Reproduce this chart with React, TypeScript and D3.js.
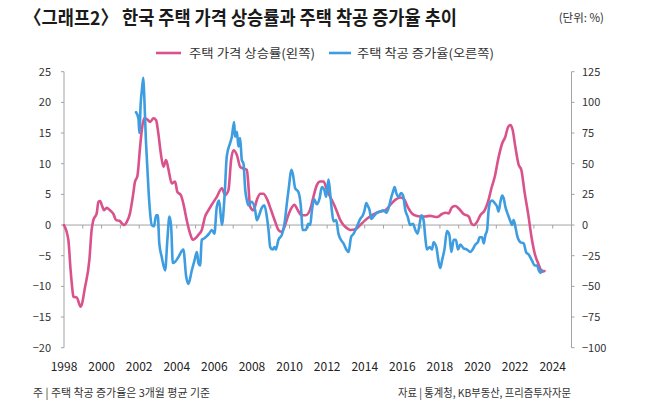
import React from "react";
import * as d3 from "d3";

// 주택 가격 상승률 (왼쪽 축, %)
const priceYears = [
  1998.0, 1998.23, 1998.35, 1998.45, 1998.5, 1998.67, 1998.89, 1999.12, 1999.35, 1999.47,
  1999.56, 1999.74, 1999.83, 1999.92, 2000.04, 2000.13, 2000.27, 2000.45, 2000.63, 2000.77,
  2000.95, 2001.07, 2001.2, 2001.34, 2001.51, 2001.66, 2001.78, 2001.9, 2002.05, 2002.14,
  2002.26, 2002.44, 2002.58, 2002.76, 2002.9, 2003.02, 2003.15, 2003.29, 2003.43, 2003.55,
  2003.73, 2003.91, 2004.03, 2004.21, 2004.35, 2004.53, 2004.71, 2004.85, 2004.98, 2005.15,
  2005.33, 2005.51, 2005.68, 2005.86, 2006.13, 2006.4, 2006.57, 2006.75, 2006.89, 2007.02,
  2007.2, 2007.37, 2007.55, 2007.73, 2007.81, 2007.9, 2008.08, 2008.26, 2008.44, 2008.61,
  2008.79, 2009.02, 2009.24, 2009.41, 2009.56, 2009.73, 2009.91, 2010.09, 2010.26, 2010.44,
  2010.65, 2010.86, 2011.1, 2011.27, 2011.45, 2011.63, 2011.81, 2011.99, 2012.16, 2012.34,
  2012.52, 2012.7, 2012.87, 2013.05, 2013.23, 2013.5, 2013.76, 2014.03, 2014.29, 2014.56,
  2014.83, 2015.09, 2015.36, 2015.62, 2015.89, 2016.07, 2016.28, 2016.51, 2016.74, 2016.96,
  2017.22, 2017.49, 2017.66, 2017.84, 2018.11, 2018.29, 2018.46, 2018.64, 2018.82, 2019.0,
  2019.26, 2019.53, 2019.67, 2019.8, 2019.97, 2020.15, 2020.38, 2020.56, 2020.74, 2020.92,
  2021.09, 2021.31, 2021.48, 2021.63, 2021.75, 2021.87, 2022.01, 2022.19, 2022.33, 2022.51,
  2022.69, 2022.87, 2023.04, 2023.26, 2023.44, 2023.56,
];
const priceRates = [
  0, -2.4, -7.3, -10.6, -11.7, -11.8, -13.3, -10.1, -5.7, -0.8,
  0.8, 1.9, 3.8, 3.9, 3.0, 2.4, 2.8, 2.4, 1.8, 0.8,
  0.7, 0.3, 0, 0.5, 1.9, 4.6, 7.1, 7.9, 12.8, 15.5,
  17.4, 17.2, 16.8, 17.4, 17.1, 14.9, 11.7, 9.5, 10.6, 9.2,
  6.8, 7.1, 5.4, 4.9, 3.5, 0.8, -1.4, -2.4, -2.2, -1.6,
  -0.8, 1.4, 2.4, 3.3, 4.6, 6.0, 4.9, 5.7, 10.6, 12.2,
  11.4, 9.5, 9.2, 9.0, 6.5, 3.0, 2.4, 4.1, 5.1, 5.1,
  4.3, 2.4, 0.5, -0.8, -1.1, -0.3, 1.4, 2.7, 3.3, 2.4,
  1.6, 1.6, 2.6, 4.6, 6.5, 7.1, 7.1, 5.7, 4.6, 3.5,
  2.2, 0.8, 0, -0.5, -0.8, -0.7, 0, 0.8, 1.4, 1.9,
  2.2, 2.4, 3.3, 4.1, 4.5, 4.3, 3.0, 1.9, 1.5, 1.4,
  1.4, 1.5, 1.4, 1.3, 1.8, 2.0, 1.9, 2.9, 3.1, 2.7,
  1.8, 1.4, 0.3, 0, 0.5, 1.6, 2.4, 3.8, 6.0, 7.9,
  10.6, 13.3, 14.4, 16.0, 16.3, 15.5, 12.8, 9.8, 9.0, 5.2,
  1.9, -1.9, -4.6, -6.5, -7.6, -7.5,
];

// 주택 착공 증가율 (오른쪽 축, %, 3개월 평균)
const startYears = [
  2001.83, 2001.96, 2002.01, 2002.08, 2002.15, 2002.22, 2002.27, 2002.35, 2002.44, 2002.54,
  2002.67, 2002.79, 2002.9, 2002.99, 2003.07, 2003.2, 2003.38, 2003.5, 2003.61, 2003.7,
  2003.79, 2003.91, 2004.09, 2004.35, 2004.5, 2004.62, 2004.8, 2004.94, 2005.07, 2005.15,
  2005.24, 2005.33, 2005.45, 2005.6, 2005.72, 2005.86, 2006.0, 2006.13, 2006.25, 2006.4,
  2006.54, 2006.66, 2006.84, 2006.93, 2007.05, 2007.1, 2007.2, 2007.28, 2007.37, 2007.46,
  2007.55, 2007.64, 2007.73, 2007.81, 2007.99, 2008.17, 2008.26, 2008.38, 2008.52, 2008.66,
  2008.79, 2008.88, 2008.97, 2009.09, 2009.2, 2009.27, 2009.41, 2009.59, 2009.73, 2009.86,
  2009.98, 2010.09, 2010.17, 2010.3, 2010.47, 2010.62, 2010.69, 2010.86, 2011.0, 2011.1,
  2011.19, 2011.31, 2011.45, 2011.6, 2011.72, 2011.84, 2011.95, 2012.07, 2012.16, 2012.25,
  2012.34, 2012.48, 2012.6, 2012.73, 2012.87, 2013.02, 2013.14, 2013.27, 2013.41, 2013.59,
  2013.76, 2013.9, 2013.99, 2014.08, 2014.15, 2014.26, 2014.35, 2014.47, 2014.65, 2014.83,
  2015.0, 2015.15, 2015.27, 2015.4, 2015.5, 2015.59, 2015.68, 2015.8, 2015.93, 2016.04,
  2016.16, 2016.28, 2016.42, 2016.57, 2016.69, 2016.81, 2016.92, 2017.01, 2017.13, 2017.22,
  2017.31, 2017.45, 2017.58, 2017.66, 2017.81, 2017.93, 2018.02, 2018.11, 2018.25, 2018.37,
  2018.5, 2018.61, 2018.73, 2018.85, 2018.96, 2019.09, 2019.26, 2019.44, 2019.62, 2019.74,
  2019.88, 2020.02, 2020.11, 2020.24, 2020.33, 2020.42, 2020.51, 2020.59, 2020.68, 2020.77,
  2020.91, 2021.04, 2021.12, 2021.22, 2021.31, 2021.39, 2021.48, 2021.63, 2021.75, 2021.84,
  2021.92, 2022.01, 2022.1, 2022.28, 2022.46, 2022.58, 2022.72, 2022.9, 2023.04, 2023.17,
  2023.26, 2023.35, 2023.44,
];
const startRates = [
  92, 87, 75, 99, 111, 120, 105, 72, 45, 18,
  0, -1, 8, 8, -15, -26, -37, -12, 7, -1,
  -31, -30, -26, -20, -42, -48, -37, -29, -22, -31,
  -33, -12, -11, -9, -7, -4, -7, 15, 20, 0,
  23, 56, 67, 72, 84, 72, 76, 64, 71, 53,
  50, 29, 20, 16, 19, 12, 4, 8, 14, 16,
  7, -4, -18, -20, -18, -20, -12, -8, 1, 18,
  33, 45, 42, 30, 27, 12, -4, -4, 1, 0,
  12, 21, 17, 22, 31, 29, 23, 37, 26, 12,
  3, 4, -7, -12, -15, -20, -22, -10, -7, -1,
  5, 8, 12, 18, 16, 12, 5, 7, 10, 11,
  12, 10, 14, 22, 27, 31, 26, 23, 26, 24,
  12, 7, 0, 1, -4, -7, 1, 8, 4, -10,
  -20, -18, -20, -14, -18, -30, -35, -29, -19, -5,
  -8, -22, -12, -12, -20, -16, -19, -20, -22, -20,
  -16, -14, -10, -10, -15, -8, -4, 12, 19, 20,
  18, 15, 11, 19, 24, 22, 15, 8, 3, 0,
  4, -1, -8, -14, -15, -22, -24, -29, -33, -33,
  -37, -39, -37,
];

const leftTicks = [25, 20, 15, 10, 5, 0, -5, -10, -15, -20];
const rightTicks = [125, 100, 75, 50, 25, 0, -25, -50, -75, -100];
const yearLabels = [1998, 2000, 2002, 2004, 2006, 2008, 2010, 2012, 2014, 2016, 2018, 2020, 2022, 2024];
const yearTicks = d3.range(1999, 2026);

const PINK = "#d9528b";
const BLUE = "#3d9de0";
const AXIS = "#a3a3a3";
const FONT = "'Noto Sans CJK KR', 'Noto Sans', sans-serif";

const fmt = (v: number) => (v < 0 ? "\u2212" + Math.abs(v) : String(v));

export default function App() {
  const width = 650;
  const height = 406;

  const x = d3.scaleLinear().domain([1998, 2025]).range([64, 571.5]);
  const yL = d3.scaleLinear().domain([-20, 25]).range([347.7, 71.7]);
  const yR = d3.scaleLinear().domain([-100, 125]).range([347.7, 71.7]);

  const pricePts = priceYears.map((t, i) => [t, priceRates[i]] as [number, number]);
  const startPts = startYears.map((t, i) => [t, startRates[i]] as [number, number]);

  const priceLine = d3
    .line<[number, number]>()
    .x((d) => x(d[0]))
    .y((d) => yL(d[1]))
    .curve(d3.curveMonotoneX);
  const startLine = d3
    .line<[number, number]>()
    .x((d) => x(d[0]))
    .y((d) => yR(d[1]))
    .curve(d3.curveMonotoneX);

  const x0 = x(1998);
  const x1 = x(2025);
  const zeroY = yL(0);

  return (
    <div style={{ position: "absolute", left: 0, top: 0 }}>
      <svg width={width} height={height} style={{ display: "block", background: "#fff" }} fontFamily={FONT}>
        {/* title */}
        <text x={24} y={25} fontSize={19} fontWeight={700} fill="#1a1a1a" textLength={433} lengthAdjust="spacingAndGlyphs">
          〈그래프2〉 한국 주택 가격 상승률과 주택 착공 증가율 추이
        </text>
        <text x={604} y={22} fontSize={11.5} fill="#333" textAnchor="end">
          (단위: %)
        </text>

        {/* legend */}
        <line x1={156} x2={181} y1={53} y2={53} stroke={PINK} strokeWidth={2.6} />
        <text x={189} y={57.5} fontSize={12.5} fill="#333" textLength={126} lengthAdjust="spacingAndGlyphs">
          주택 가격 상승률(왼쪽)
        </text>
        <line x1={329} x2={351} y1={53} y2={53} stroke={BLUE} strokeWidth={2.6} />
        <text x={357} y={57.5} fontSize={12.5} fill="#333" textLength={137} lengthAdjust="spacingAndGlyphs">
          주택 착공 증가율(오른쪽)
        </text>

        {/* axes */}
        <line x1={x0} x2={x0} y1={yL(25)} y2={yL(-20)} stroke={AXIS} strokeWidth={1} />
        <line x1={x1} x2={x1} y1={yR(125)} y2={yR(-100)} stroke={AXIS} strokeWidth={1} />
        <line x1={x0} x2={x1} y1={zeroY} y2={zeroY} stroke={AXIS} strokeWidth={1} />
        {yearTicks.map((t) => (
          <line key={`yt-${t}`} x1={x(t)} x2={x(t)} y1={zeroY} y2={zeroY + 3.5} stroke={AXIS} strokeWidth={1} />
        ))}
        {leftTicks.map((t) => (
          <g key={`lt-${t}`}>
            <line x1={x0 - 3} x2={x0} y1={yL(t)} y2={yL(t)} stroke={AXIS} strokeWidth={1} />
            <text x={51} y={yL(t) + 4} fontSize={11} fill="#333" textAnchor="end">
              {fmt(t)}
            </text>
          </g>
        ))}
        {rightTicks.map((t) => (
          <g key={`rt-${t}`}>
            <line x1={x1} x2={x1 + 3} y1={yR(t)} y2={yR(t)} stroke={AXIS} strokeWidth={1} />
            <text x={582} y={yR(t) + 4} fontSize={11} fill="#333">
              {fmt(t)}
            </text>
          </g>
        ))}
        {yearLabels.map((t) => (
          <text key={`yl-${t}`} x={x(t)} y={371} fontSize={12} fill="#222" textAnchor="middle">
            {t}
          </text>
        ))}

        {/* series */}
        <path d={priceLine(pricePts) ?? ""} fill="none" stroke={PINK} strokeWidth={2.6} strokeLinejoin="round" strokeLinecap="round" />
        <path d={startLine(startPts) ?? ""} fill="none" stroke={BLUE} strokeWidth={2.6} strokeLinejoin="round" strokeLinecap="round" />

        {/* footer */}
        <text x={33} y={397} fontSize={11} fill="#333" textLength={177} lengthAdjust="spacingAndGlyphs">
          주 | 주택 착공 증가율은 3개월 평균 기준
        </text>
        <text x={398} y={397} fontSize={11} fill="#333" textLength={173} lengthAdjust="spacingAndGlyphs">
          자료 | 통계청, KB부동산, 프리즘투자자문
        </text>
      </svg>
    </div>
  );
}
